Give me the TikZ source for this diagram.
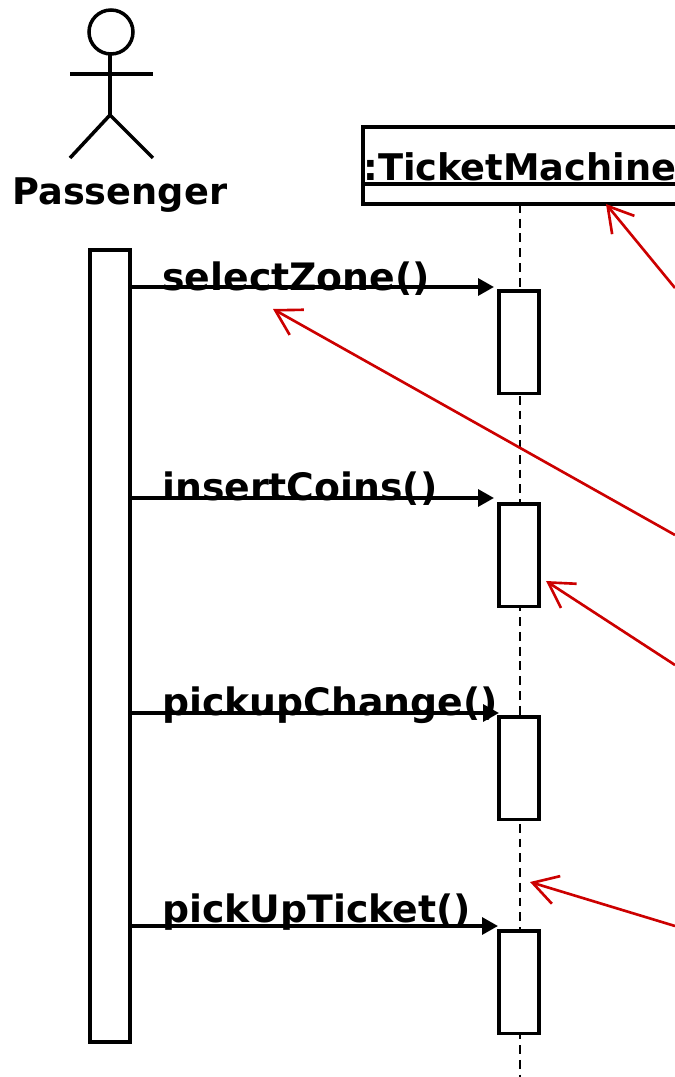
\documentclass[tikz,border=0pt]{standalone}
\usepackage{fontspec}
\setmainfont{DejaVu Sans}
\usetikzlibrary{arrows.meta}
\usetikzlibrary{calc}

\tikzset{
  umlline/.style={line width=2pt},
  bartext/.style={inner sep=0pt, font=\fontsize{20.9}{25}\selectfont\bfseries},
  msgtext/.style={inner sep=0pt, font=\fontsize{21.5}{25}\selectfont\bfseries},
  actbar/.style={draw, umlline, fill=white, inner sep=0pt, outer sep=0pt, minimum width=0.8cm},
  msgline/.style={umlline, -{Triangle[length=9pt,width=9.5pt]}},
  lifeline/.style={line width=1.1pt, dash pattern=on 5pt off 3.4pt},
  remark/.style={line width=1.5pt, color=remarkred, -{Straight Barb[length=14pt,width=16.4pt]}}
}
\definecolor{remarkred}{HTML}{CC0000}

\begin{document}
\begin{tikzpicture}[x=0.02cm,y=-0.02cm]
    \useasboundingbox (0,0) rectangle (675,1077);
    \clip (0,0) rectangle (675,1077);

    % Define the coordinates of the points
    \coordinate (neck) at (110,54);
    \coordinate (hip) at (110,115);
    \coordinate (handl) at (70,74);
    \coordinate (handr) at (153,74);
    \coordinate (footl) at (70,158);
    \coordinate (footr) at (153,158);
    \coordinate (lifeend) at (520,1090);

    % Passenger
    \node[draw, umlline, circle, inner sep=0pt, outer sep=0pt, minimum size=0.88cm] (head) at (111,32) {};
    \draw[umlline] (head.south -| neck) -- (hip);
    \draw[umlline] (handl) -- (handr);
    \draw[umlline] (footl) -- (hip) -- (footr);
    \node[bartext, anchor=base west] (passenger) at (12,205) {Passenger};

    % TicketMachine
    \node[draw, umlline, inner sep=0pt, outer sep=0pt, minimum width=7cm, minimum height=1.54cm, anchor=north west] (machine) at (363,127) {};
    \node[bartext, anchor=base west] (machinetext) at (363,181) {:TicketMachine};
    \draw[umlline] (machinetext.west |- 0,184) -- (machine.east |- 0,184);
    \draw[lifeline] (lifeend |- machine.south) -- (lifeend);

    % Activation bars
    \node[actbar, minimum height=15.84cm, anchor=north west] (pbar) at (90,250) {};
    \foreach \name/\top in {zonebar/291, coinbar/504, changebar/717, ticketbar/931}
        \node[actbar, minimum height=2.05cm, anchor=north west] (\name) at (499,\top) {};

    % Draw the messages
    \foreach \name/\text/\base/\y/\tipx in {zone/selectZone()/291/287/494, coin/insertCoins()/500/498/494, change/pickupChange()/715/713/499, ticket/pickUpTicket()/922/926/498}{
        \coordinate (\name end) at (\tipx,\y);
        \draw[msgline] (pbar.east |- \name end) -- (\name end);
        \node[msgtext, anchor=base west] (\name text) at (162,\base) {\text};
    }

    % Draw the red arrows
    \coordinate (machinefrom) at (675,288);
    \coordinate (machineto) at (606,204);
    \coordinate (zonefrom) at (675,535);
    \coordinate (zoneto) at (273,309);
    \coordinate (coinfrom) at (675,665);
    \coordinate (cointo) at (546,581);
    \coordinate (ticketfrom) at (675,926);
    \coordinate (ticketto) at (530,882);
    \draw[remark] (machinefrom) -- (machineto);
    \draw[remark] (zonefrom) -- (zoneto);
    \draw[remark] (coinfrom) -- (cointo);
    \draw[remark] (ticketfrom) -- (ticketto);
\end{tikzpicture}
\end{document}
